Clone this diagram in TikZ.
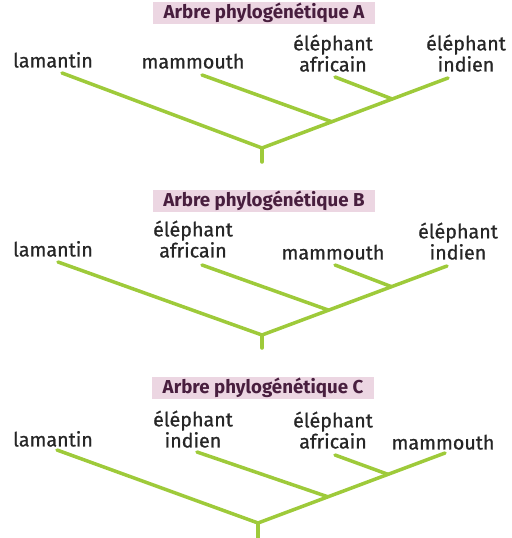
\documentclass[tikz,border=0pt]{standalone}
\usepackage{fontspec}
\setmainfont{Fira Sans}
\newfontfamily\taxonfont{Fira Sans}[FakeBold=0.9]
\usetikzlibrary{calc,positioning}
\definecolor{branche}{RGB}{158,202,58}
\definecolor{titrefond}{RGB}{236,214,226}
\definecolor{titretexte}{RGB}{72,30,62}

\begin{document}
\begin{tikzpicture}
[x=0.25mm,y=-0.25mm,
branch/.style = {draw=branche, line width=2.5pt, line cap=round},
taxon/.style = {anchor=south, inner sep=0pt, align=center, text=black!85, font=\taxonfont\fontsize{14}{15}\selectfont},
titre/.style = {fill=titrefond, text=titretexte, inner sep=0pt, minimum width=55.5mm, minimum height=5.5mm, font=\bfseries\fontsize{13.3}{13.3}\selectfont},]
\useasboundingbox (0,0) rectangle (511,538);

% arbre A
\node (titreA) at (264,13)[titre] {Arbre phylogénétique A};
\coordinate (rA) at (262,148);
\coordinate (bA) at (262,162);
\coordinate (lamA) at (62,73);
\coordinate (mamA) at (202,75);
\coordinate (afrA) at (335,77);
\coordinate (indA) at (448,78);
\coordinate (jmA) at ($(rA)!0.375!(indA)$);
\coordinate (jaA) at ($(rA)!0.70!(indA)$);
\draw [branch] (bA) -- (rA);
\draw [branch] (rA) -- (lamA);
\draw [branch] (rA) -- (indA);
\draw [branch] (jmA) -- (mamA);
\draw [branch] (jaA) -- (afrA);
\node (tlamA) at (53,68)[taxon] {lamantin};
\node (tmamA) at (193,69)[taxon] {mammouth};
\node (tafrA) at (333,72)[taxon] {éléphant\\africain};
\node (tindA) at (466,72)[taxon] {éléphant\\indien};

% arbre B
\node (titreB) at (264,201)[titre] {Arbre phylogénétique B};
\coordinate (rB) at (262,335);
\coordinate (bB) at (262,348);
\coordinate (lamB) at (58,262);
\coordinate (afrB) at (202,265);
\coordinate (mamB) at (335,265);
\coordinate (indB) at (447,266);
\coordinate (jaB) at ($(rB)!0.36!(indB)$);
\coordinate (jmB) at ($(rB)!0.70!(indB)$);
\draw [branch] (bB) -- (rB);
\draw [branch] (rB) -- (lamB);
\draw [branch] (rB) -- (indB);
\draw [branch] (jaB) -- (afrB);
\draw [branch] (jmB) -- (mamB);
\node (tlamB) at (53,257)[taxon] {lamantin};
\node (tafrB) at (193,258)[taxon] {éléphant\\africain};
\node (tmamB) at (333,260)[taxon] {mammouth};
\node (tindB) at (458,260)[taxon] {éléphant\\indien};

% arbre C
\node (titreC) at (263,388)[titre] {Arbre phylogénétique C};
\coordinate (rC) at (258,523);
\coordinate (bC) at (258,540);
\coordinate (lamC) at (57,450);
\coordinate (indC) at (197,452);
\coordinate (afrC) at (335,455);
\coordinate (mamC) at (445,453);
\coordinate (jiC) at ($(rC)!0.374!(mamC)$);
\coordinate (jaC) at ($(rC)!0.695!(mamC)$);
\draw [branch] (bC) -- (rC);
\draw [branch] (rC) -- (lamC);
\draw [branch] (rC) -- (mamC);
\draw [branch] (jiC) -- (indC);
\draw [branch] (jaC) -- (afrC);
\node (tlamC) at (53,447)[taxon] {lamantin};
\node (tindC) at (193,448)[taxon] {éléphant\\indien};
\node (tafrC) at (333,449)[taxon] {éléphant\\africain};
\node (tmamC) at (443,450)[taxon] {mammouth};
\end{tikzpicture}
\end{document}
